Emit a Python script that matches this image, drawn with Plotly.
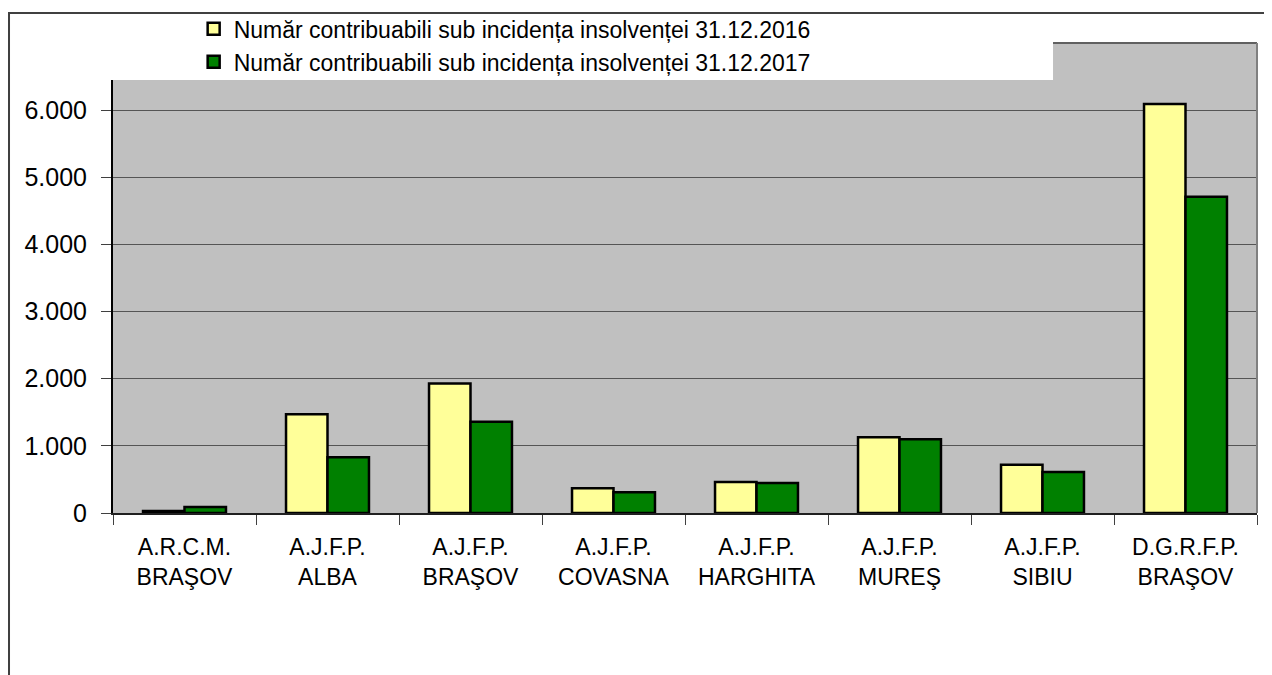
import plotly.graph_objects as go

categories = ["A.R.C.M.<br>BRAŞOV", "A.J.F.P.<br>ALBA", "A.J.F.P.<br>BRAŞOV", "A.J.F.P.<br>COVASNA",
              "A.J.F.P.<br>HARGHITA", "A.J.F.P.<br>MUREŞ", "A.J.F.P.<br>SIBIU", "D.G.R.F.P.<br>BRAŞOV"]
values_2016 = [30, 1470, 1930, 370, 460, 1130, 720, 6090]
values_2017 = [90, 830, 1360, 310, 445, 1100, 610, 4710]
name_2016 = "Număr contribuabili sub incidența insolvenței 31.12.2016"
name_2017 = "Număr contribuabili sub incidența insolvenței 31.12.2017"
y_ticks = [0, 1000, 2000, 3000, 4000, 5000, 6000]

font = "Arial, Liberation Sans, sans-serif"

fig = go.Figure()
fig.add_trace(go.Bar(x=categories, y=values_2016, name=name_2016,
                     marker=dict(color="#FFFF99", line=dict(color="black", width=2.5))))
fig.add_trace(go.Bar(x=categories, y=values_2017, name=name_2017,
                     marker=dict(color="#008000", line=dict(color="black", width=2.5))))

# page body has an 8px margin, so the figure is a bit smaller and shifted
fig.update_layout(
    width=1264, height=667,
    margin=dict(l=105, r=15, t=35, b=162, autoexpand=False),
    paper_bgcolor="white", plot_bgcolor="#C0C0C0",
    barmode="group", bargap=0.42, bargroupgap=0,
    separators=",.",
    font=dict(family=font, color="black"),
    legend=dict(x=0.0705, y=1.076, xanchor="left", yanchor="top",
                bgcolor="rgba(0,0,0,0)", font=dict(size=23, family=font),
                tracegroupgap=0),
    shapes=[
        # white box behind legend, cutting into the plot area
        dict(type="rect", xref="paper", yref="paper", x0=-0.004, x1=0.8217, y0=0.9213, y1=1.0,
             fillcolor="white", line=dict(width=0), layer="above"),
        dict(type="line", xref="paper", yref="paper", x0=0.8217, x1=1.0, y0=1.0, y1=1.0,
             line=dict(color="#606060", width=2), layer="above"),
        dict(type="line", xref="paper", yref="paper", x0=1.0, x1=1.0, y0=0, y1=1.0,
             line=dict(color="#808080", width=2), layer="above"),
        # outer chart frame
        dict(type="rect", xref="paper", yref="paper", x0=-0.0909, x1=1.1, y0=-0.5, y1=1.0638,
             line=dict(color="#404040", width=2), fillcolor="rgba(0,0,0,0)"),
    ],
)

fig.update_xaxes(showgrid=False, showline=True, linecolor="#202020", linewidth=1.5,
                 ticks="outside", tickson="boundaries", ticklen=10, tickcolor="#404040",
                 tickfont=dict(size=23), ticklabelstandoff=13)
fig.update_yaxes(range=[0, 7000], tickvals=y_ticks, tickformat=",d",
                 showgrid=True, gridcolor="#555555", gridwidth=1,
                 showline=True, linecolor="black", linewidth=2,
                 ticks="outside", ticklen=10, tickcolor="#404040",
                 tickfont=dict(size=25), ticklabelstandoff=9, zeroline=False)

fig.write_html("out.html")
